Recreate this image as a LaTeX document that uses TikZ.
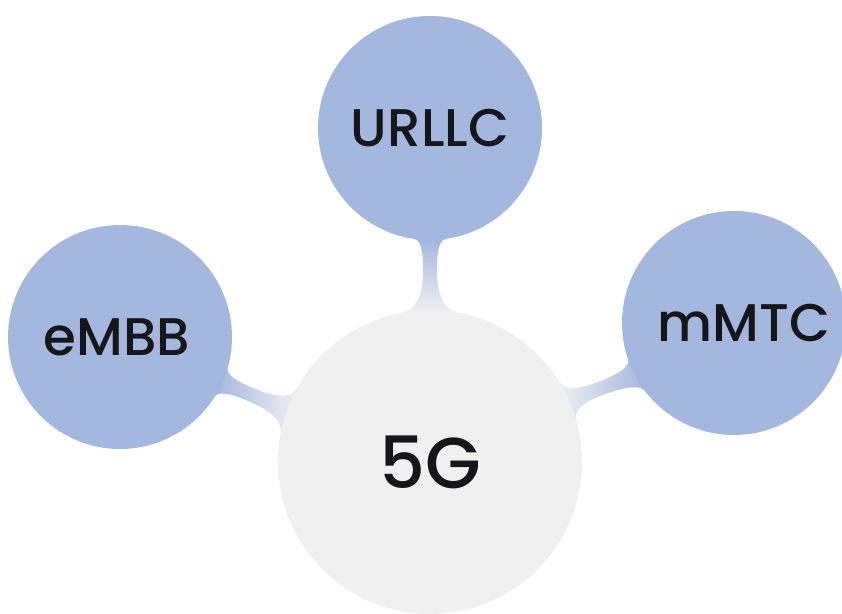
\documentclass[tikz,border=0pt]{standalone}
\usepackage{fontspec}
\newfontfamily\lblfont{Poppins Medium}
\usetikzlibrary{calc,backgrounds}
\definecolor{cblue}{RGB}{164,183,222}
\definecolor{cgray}{RGB}{240,240,241}
\definecolor{ctext}{RGB}{22,22,26}
\tikzset{
  bubble/.style={circle, inner sep=0pt, fill=cblue, minimum size=224pt, text=ctext,
    font=\lblfont\fontsize{53}{56}\selectfont},
  hub/.style={circle, inner sep=0pt, fill=cgray, minimum size=304pt, text=ctext,
    font=\lblfont\fontsize{72}{76}\selectfont},
  neckv/.style={top color=cblue, middle color=cblue!80!white, bottom color=cgray},
  neckl/.style={left color=cblue, middle color=cblue!80!white, right color=cgray},
  neckr/.style={left color=cgray, middle color=cblue!80!white, right color=cblue},
}
\begin{document}
\begin{tikzpicture}[x=1pt,y=1pt]
\useasboundingbox (0,0) rectangle (842,613);
\node[hub] (G) at (430,151) {5G};
\node[bubble] (U) at (430,485) {URLLC};
\node[bubble] (E) at (120,276) {eMBB\hspace*{6pt}};
\node[bubble] (M) at (734,290) {\hspace*{20pt}mMTC};
\begin{pgfonlayer}{background}
\fill[white] (0,0) rectangle (842,613);
% URLLC -- 5G
\coordinate (uw) at ($(U.-90)!0.5!(G.90)$);
\coordinate (uwR) at ($(uw)!7pt!90:(G.90)$);
\coordinate (uwL) at ($(uw)!7pt!-90:(G.90)$);
\shade[neckv]
  (U.-82) .. controls +(-172:9) and +(90:14) .. (uwR)
  .. controls +(-90:14) and +(170:14) .. (G.80) -- (G.100)
  .. controls +(10:14) and +(-90:14) .. (uwL)
  .. controls +(90:14) and +(-8:9) .. (U.-98) -- cycle;
% eMBB -- 5G
\coordinate (ew) at ($(E.-24)!0.5!(G.160)$);
\coordinate (ewU) at ($(ew)!7pt!90:(G.160)$);
\coordinate (ewL) at ($(ew)!7pt!-90:(G.160)$);
\shade[neckl]
  (E.-16) .. controls +(-106:9) and +(157:14) .. (ewU)
  .. controls +(-23:14) and +(241:14) .. (G.151) -- (G.169)
  .. controls +(79:14) and +(-23:14) .. (ewL)
  .. controls +(157:14) and +(58:9) .. (E.-32) -- cycle;
% mMTC -- 5G
\coordinate (mw) at ($(M.-152)!0.5!(G.24)$);
\coordinate (mwU) at ($(mw)!7pt!90:(G.24)$);
\coordinate (mwL) at ($(mw)!7pt!-90:(G.24)$);
\shade[neckr]
  (M.-143) .. controls +(127:9) and +(21:14) .. (mwU)
  .. controls +(-159:14) and +(106:14) .. (G.16) -- (G.32)
  .. controls +(-58:14) and +(-159:14) .. (mwL)
  .. controls +(21:14) and +(-71:9) .. (M.-161) -- cycle;
\end{pgfonlayer}
\end{tikzpicture}
\end{document}
